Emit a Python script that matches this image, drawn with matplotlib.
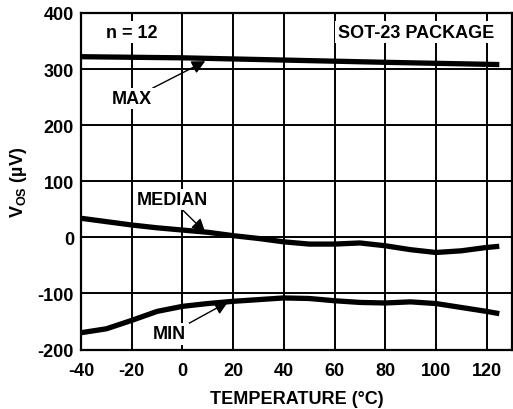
import matplotlib
matplotlib.use('Agg')
import matplotlib.pyplot as plt

plt.rcParams['font.family'] = ['Liberation Sans', 'DejaVu Sans']
plt.rcParams['font.weight'] = 'bold'
plt.rcParams['axes.unicode_minus'] = False
plt.rcParams['mathtext.fontset'] = 'custom'
plt.rcParams['mathtext.rm'] = 'Liberation Sans:bold'
plt.rcParams['mathtext.bf'] = 'Liberation Sans:bold'

# values
temp_max = [-40, 0, 40, 80, 125]
vos_max = [322, 320, 316, 312, 308]

temp = [-40, -30, -20, -10, 0, 10, 20, 30, 40, 50, 60, 70, 80, 90, 100, 110, 120, 125]
vos_median = [34, 28, 22, 17, 13, 9, 3, -2, -8, -12, -12, -10, -15, -22, -27, -24, -18, -16]
vos_min = [-170, -163, -148, -132, -123, -118, -114, -111, -108, -109, -113, -116, -117, -115, -118, -125, -132, -136]

x_ticks = [-40, -20, 0, 20, 40, 60, 80, 100, 120]
y_ticks = [-200, -100, 0, 100, 200, 300, 400]

fs = 13

fig = plt.figure(figsize=(5.13, 4.10), dpi=100)
ax = fig.add_axes([0.158, 0.145, 0.840, 0.821])

for xs, ys in [(temp_max, vos_max), (temp, vos_median), (temp, vos_min)]:
    ax.plot(xs, ys, color='black', linewidth=3.8, solid_capstyle='butt', zorder=3)

ax.set_xlim(-40, 130)
ax.set_ylim(-200, 400)
ax.set_xticks(x_ticks)
ax.set_yticks(y_ticks)
ax.grid(True, color='black', linewidth=1.4)
ax.tick_params(length=0, labelsize=fs)
ax.tick_params(axis='x', pad=9)
ax.tick_params(axis='y', pad=5)
for s in ax.spines.values():
    s.set_linewidth(1.6)

ax.set_xlabel('TEMPERATURE (°C)', fontsize=fs, fontweight='bold', labelpad=8)
ax.set_ylabel(r'V$_{\rm OS}$ (µV)', fontsize=fs, fontweight='bold', labelpad=6)

box = dict(facecolor='white', edgecolor='none', pad=1.5)
ax.text(-20, 366, 'n = 12', fontsize=fs, fontweight='bold', ha='center', va='center', bbox=box, zorder=4)
ax.text(92, 366, 'SOT-23 PACKAGE', fontsize=fs, fontweight='bold', ha='center', va='center', bbox=box, zorder=4)

arrow = dict(arrowstyle='-|>', color='black', linewidth=1.0, mutation_scale=20, shrinkA=0, shrinkB=0)
ax.annotate('MAX', xy=(9, 314), xytext=(-20, 247), fontsize=fs, fontweight='bold',
            ha='center', va='center', bbox=box, arrowprops=arrow, zorder=4)
ax.annotate('MEDIAN', xy=(9, 9), xytext=(-4, 67), fontsize=fs, fontweight='bold',
            ha='center', va='center', bbox=box, arrowprops=arrow, zorder=4)
ax.annotate('MIN', xy=(18, -115), xytext=(-5, -172), fontsize=fs, fontweight='bold',
            ha='center', va='center', bbox=box, arrowprops=arrow, zorder=4)

fig.savefig('out.png', dpi=100)
